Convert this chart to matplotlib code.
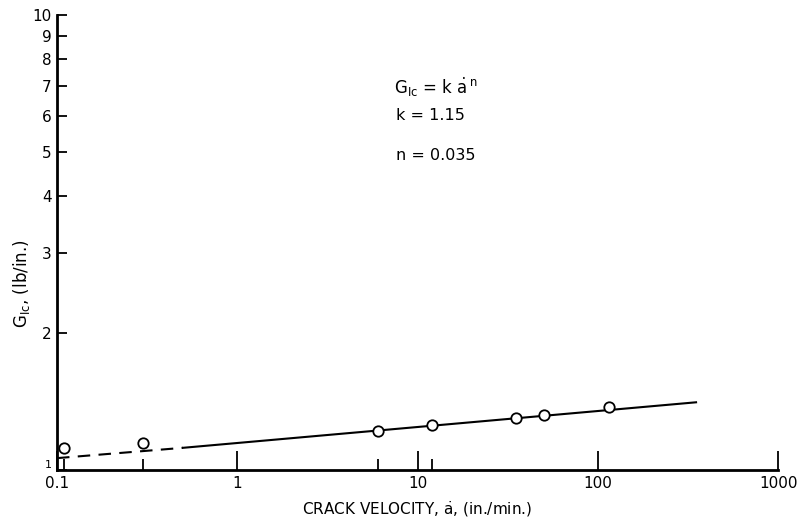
import matplotlib
matplotlib.use("Agg")
import matplotlib.pyplot as plt
from matplotlib.ticker import FixedLocator, NullFormatter

# data
vel = [0.11, 0.3, 6, 12, 35, 50, 115]
gic = [1.12, 1.145, 1.22, 1.255, 1.305, 1.325, 1.38]

# fitted line G = k * a^n, endpoints
fit_dash_x = [0.1, 0.5]
fit_dash_y = [1.063, 1.12]
fit_solid_x = [0.5, 350]
fit_solid_y = [1.12, 1.41]

xticks = [0.1, 1, 10, 100, 1000]
xlabels = ["0.1", "1", "10", "100", "1000"]
xminor = [0.11, 0.3, 6, 12]
yticks = [1, 2, 3, 4, 5, 6, 7, 8, 9, 10]

plt.rcParams["font.family"] = ["DejaVu Sans"]

fig = plt.figure(figsize=(7.97, 5.19), dpi=100)
ax = fig.add_axes([0.0715, 0.094, 0.905, 0.877])

ax.plot(fit_dash_x, fit_dash_y, color="black", lw=1.5, ls=(0, (6, 4)))
ax.plot(fit_solid_x, fit_solid_y, color="black", lw=1.5)
ax.plot(vel, gic, "o", ms=7.5, mfc="white", mec="black", mew=1.3, zorder=3)

ax.set_xscale("log")
ax.set_yscale("log")
ax.set_xlim(0.1, 1000)
ax.set_ylim(1, 10)

ax.xaxis.set_major_locator(FixedLocator(xticks))
ax.set_xticklabels(xlabels)
ax.xaxis.set_minor_locator(FixedLocator(xminor))
ax.xaxis.set_minor_formatter(NullFormatter())
ax.yaxis.set_major_locator(FixedLocator(yticks))
ax.set_yticklabels([str(t) for t in yticks])
ax.yaxis.set_minor_locator(FixedLocator([]))

ax.tick_params(axis="x", which="major", direction="in", length=14, width=1.3,
               labelsize=11, pad=4)
ax.tick_params(axis="x", which="minor", direction="in", length=8, width=1.3)
ax.tick_params(axis="y", which="major", direction="in", length=7, width=1.3,
               labelsize=11, pad=4)

# the "1" on the y axis sits small, above the 0.1
lab1 = ax.get_yticklabels()[0]
lab1.set_fontsize(8)
lab1.set_va("bottom")

for s in ["top", "right"]:
    ax.spines[s].set_visible(False)
for s in ["left", "bottom"]:
    ax.spines[s].set_linewidth(2)

ax.set_xlabel(r"CRACK VELOCITY, $\dot{\mathrm{a}}$, (in./min.)", fontsize=11, labelpad=6)
ax.set_ylabel(r"G$_{\mathrm{Ic}}$, (lb/in.)", fontsize=12, labelpad=10)
ax.yaxis.set_label_coords(-0.035, 0.41)

ax.text(0.467, 0.84, r"G$_{\mathrm{Ic}}$ = k $\dot{\mathrm{a}}^{\,\mathrm{n}}$",
        transform=ax.transAxes, fontsize=12, va="center")
ax.text(0.47, 0.78, "k = 1.15", transform=ax.transAxes, fontsize=11.5, va="center")
ax.text(0.47, 0.692, "n = 0.035", transform=ax.transAxes, fontsize=11.5, va="center")

fig.savefig("out.png", dpi=100)
